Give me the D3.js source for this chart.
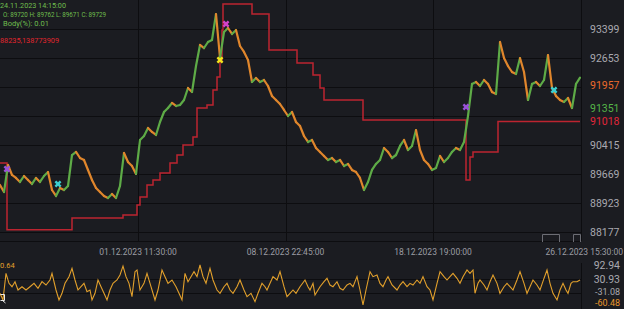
<!doctype html>
<html>
  <head>
    <meta charset="utf-8">
    <title>Price chart with trailing stop and oscillator</title>
    <script src="https://cdnjs.cloudflare.com/ajax/libs/d3/7.8.5/d3.min.js"></script>
    <style>
      html, body { margin: 0; padding: 0; background: #1b1c21; }
      svg { display: block; font-family: Roboto, "Noto Sans", sans-serif; }
    </style>
  </head>
  <body>
    <div id="chart"></div>
    <script>
    // ---- data ----
    // closes, one every 4 bars
    const priceStep = 4;
    const priceClose = [
      89387, 89207, 89901, 89644, 89567, 89464, 89618, 89515, 89413, 89567,
      89464, 89618, 89721, 89258, 89104, 89310, 89258, 89361, 90158, 90236,
      90081, 90030, 89773, 89515, 89310, 89207, 89104, 89052, 89155, 89052,
      89361, 90210, 89978, 89875, 89670, 90544, 90647, 90853, 90750, 90673,
      91007, 91264, 91367, 91496, 91419, 91444, 91573, 91882, 91779, 92447,
      92988, 92910, 93065, 93116, 93785, 92653, 93322, 93425, 93271, 93373,
      92962, 92808, 92602, 92036, 92139, 92036, 92087, 91933, 91676, 91573,
      91470, 91316, 91161, 91264, 91007, 90904, 90647, 90493, 90544, 90338,
      90236, 90133, 90030, 90081, 89978, 90030, 89875, 89927, 89773, 89721,
      89567, 89258, 89464, 89773, 89927, 90030, 90338, 90236, 90081, 90158,
      90390, 90544, 90287, 90390, 90801, 90287, 90030, 89927, 89773, 89824,
      90133, 89978, 90081, 90236, 90338, 90287, 90493, 91161, 91985, 92036,
      91933, 92087, 91985, 91779, 91727, 93065, 92653, 92447, 92293, 92242,
      92653, 92293, 91573, 91985, 92036, 91933, 92087, 92730, 91882, 91676,
      91573, 91522, 91624, 91367, 91985, 92150
    ];

    // trailing stop (red step line)
    const stopBar   = [0, 7, 72, 123, 137, 140, 147, 153, 160, 170, 177, 183, 193, 197, 207, 213, 217, 220, 222, 223, 252, 269, 297, 313, 320, 324, 363, 466, 470, 473, 498, 580];
    const stopValue = [89953, 88235, 88538, 88615, 88872, 89078, 89387, 89515, 89695, 89953, 90158, 90416, 90621, 91367, 91444, 91830, 92165, 92602, 93373, 94042, 93785, 92859, 92525, 92216, 91882, 91573, 91059, 89515, 90107, 90236, 91018, 91018];

    // signal markers
    const markBar   = [7, 58, 220, 226, 466, 554];
    const markValue = [89798, 89413, 92602, 93528, 91393, 91830];
    const markColor = ['#9a52d8', '#3cd0d2', '#f2e41c', '#d443c8', '#9a52d8', '#3cd0d2'];

    // oscillator (lower pane)
    const oscBar = [0, 3, 6, 9, 12, 15, 18, 22, 26, 30, 34, 38, 42, 46, 50, 52, 56, 59, 62, 65,
      69, 72, 75, 78, 81, 84, 87, 90, 92, 95, 98, 101, 104, 107, 110, 113, 117, 120, 123, 126,
      129, 132, 135, 137, 140, 144, 147, 151, 155, 158, 162, 165, 168, 172, 176, 179, 182, 185, 188, 191,
      194, 197, 200, 203, 206, 210, 213, 217, 220, 224, 227, 230, 233, 237, 240, 244, 247, 251, 255, 258,
      262, 265, 267, 270, 273, 277, 280, 284, 287, 290, 293, 296, 300, 305, 308, 310, 313, 315, 320, 324,
      327, 330, 333, 337, 340, 343, 347, 350, 353, 357, 360, 363, 366, 370, 373, 377, 380, 383, 386, 388,
      392, 397, 400, 403, 407, 410, 413, 417, 420, 423, 427, 430, 433, 437, 440, 444, 447, 450, 453, 457,
      460, 463, 467, 470, 473, 475, 478, 480, 484, 487, 490, 493, 497, 500, 504, 507, 510, 513, 517, 520,
      524, 527, 530, 533, 537, 540, 544, 547, 550, 553, 557, 560, 563, 566, 568, 571, 573, 577, 580];
    const oscValue = [-32.5, -62, 56, 11.7, -3.2, 19, -17.8, -3.2, -17.8, -3.2, 11.7, -10.4, 19, 4.3, 26.5, 56, -17.8, -62, -32.5, 11.7,
      41.3, 78.3, 26.5, -17.8, -3.2, 11.7, -25.2, -17.8, -62, -32.5, 26.5, -3.2, -32.5, -62, -17.8, 11.7, 26.5, 48.6, 88, 41.3,
      11.7, -47.4, 63.4, 70.8, -17.8, 11.7, 56, -3.2, -62, -17.8, 70.8, 41.3, 11.7, 26.5, -3.2, -32.5, -62, 56, 19, 41.3,
      63.4, 41.3, 93, 41.3, 11.7, 78.3, 26.5, -17.8, -32.5, -3.2, 11.7, -17.8, -32.5, -3.2, 26.5, -17.8, -47.4, -32.5, -69.5, -32.5,
      11.7, -3.2, -17.8, 11.7, 41.3, 26.5, 63.4, -3.2, -47.4, -32.5, -17.8, -32.5, -3.2, 26.5, -3.2, -17.8, 11.7, -40, -3.2, 19,
      33.9, 4.3, -3.2, 19, -10.4, -17.8, 4.3, 11.7, -3.2, 41.3, -17.8, -84, -17.8, 63.4, 41.3, 48.6, 11.7, -3.2, 26.5, 41.3,
      4.3, -17.8, 4.3, 19, -3.2, 11.7, 4.3, 26.5, 11.7, 41.3, -3.2, -17.8, -62, 11.7, 63.4, 41.3, 26.5, 41.3, 56, 33.9,
      11.7, 41.3, 70.8, 56, 70.8, -32.5, 11.7, 26.5, 4.3, -17.8, 19, 48.6, 11.7, -32.5, -3.2, 11.7, -3.2, -17.8, 26.5, 63.4,
      11.7, -32.5, -3.2, 26.5, 4.3, -17.8, 33.9, 70.8, 11.7, -32.5, -62, -17.8, 11.7, -17.8, -32.5, 11.7, 19, 19, 26.5];

    // axis ticks
    const priceTicks = [88177, 88923, 89669, 90415, 91161, 91907, 92653, 93399];
    const priceTickShown = [88177, 88923, 89669, 90415, 92653, 93399];
    const lastLabels = [
      { v: 91957, color: '#ec6a2c' },
      { v: 91351, color: '#55b548' },
      { v: 91018, color: '#e1263a' }
    ];
    const timeTickBar = [138, 285.5, 433, 580.5];
    const timeTickLabel = ['01.12.2023 11:30:00', '08.12.2023 22:45:00', '18.12.2023 19:00:00', '26.12.2023 15:30:00'];
    const oscTicks = [92.94, 30.93, -31.08];
    const oscGrid = [30.93, -31.08];
    const oscLast = -60.48;

    const headerLines = ['24.11.2023 14:15:00', 'O: 89720 H: 89762 L: 89671 C: 89729', 'Body(%): 0.01'];
    const stopText = '88235,138773909';
    const oscText = '0.64';

    // ---- layout ----
    const W = 624, H = 309;
    const plotR = 581;          // right edge of plot / left of price axis
    const mainTop = 0, mainBot = 241;
    const oscTop = 258, oscBot = 309;

    const svg = d3.select('#chart').append('svg')
      .attr('width', W).attr('height', H);

    svg.append('rect').attr('width', W).attr('height', H).attr('fill', '#1b1c21');

    const x = d3.scaleLinear().domain([0, 580]).range([0, 580]);
    const y = d3.scaleLinear().domain([87946, 94145]).range([mainBot, mainTop]);
    const yo = d3.scaleLinear().domain([-102, 124]).range([oscBot, oscTop]);

    const gridColor = '#0d0d10';

    // grid
    svg.append('g').selectAll('line').data(priceTicks).join('line')
      .attr('x1', 0).attr('x2', plotR)
      .attr('y1', d => Math.round(y(d)) + 0.5).attr('y2', d => Math.round(y(d)) + 0.5)
      .attr('stroke', gridColor);
    svg.append('g').selectAll('line').data(timeTickBar.slice(0, 3)).join('line')
      .attr('x1', d => Math.round(x(d)) + 0.5).attr('x2', d => Math.round(x(d)) + 0.5)
      .attr('y1', mainTop).attr('y2', mainBot)
      .attr('stroke', gridColor);
    svg.append('g').selectAll('line').data(oscGrid).join('line')
      .attr('x1', 0).attr('x2', plotR)
      .attr('y1', d => Math.round(yo(d)) + 0.5).attr('y2', d => Math.round(yo(d)) + 0.5)
      .attr('stroke', gridColor);

    // pane borders
    svg.append('line').attr('x1', 0).attr('x2', plotR).attr('y1', mainBot + 0.5).attr('y2', mainBot + 0.5).attr('stroke', gridColor);
    svg.append('line').attr('x1', plotR + 0.5).attr('x2', plotR + 0.5).attr('y1', 0).attr('y2', mainBot).attr('stroke', gridColor);
    svg.append('line').attr('x1', plotR + 0.5).attr('x2', plotR + 0.5).attr('y1', 263).attr('y2', H).attr('stroke', gridColor);

    // small scroll buttons near the bottom right
    svg.append('path')
      .attr('d', 'M542.5,242V234.5H559.5V242M573.5,242V234.5H580.5V242')
      .attr('fill', 'none').attr('stroke', '#6c6d74');

    // trailing stop
    const stopData = stopBar.map((b, i) => [b, stopValue[i]]);
    svg.append('path')
      .datum(stopData)
      .attr('d', d3.line().x(d => x(d[0])).y(d => y(d[1])).curve(d3.curveStepAfter))
      .attr('fill', 'none').attr('stroke', '#bd2430').attr('stroke-width', 1.5);

    // price, each step coloured by direction
    const segs = priceClose.slice(1).map((c, i) => ({ x0: i * priceStep, x1: (i + 1) * priceStep, o: priceClose[i], c: c }));
    svg.append('g').selectAll('line').data(segs).join('line')
      .attr('x1', d => x(d.x0)).attr('x2', d => x(d.x1))
      .attr('y1', d => y(d.o)).attr('y2', d => y(d.c))
      .attr('stroke', d => d.c >= d.o ? '#5eab47' : '#e0862c')
      .attr('stroke-width', 2.2)
      .attr('stroke-linecap', 'round');

    // markers
    svg.append('g').selectAll('path').data(markBar).join('path')
      .attr('transform', (d, i) => `translate(${x(d)},${y(markValue[i])}) rotate(45)`)
      .attr('d', d3.symbol(d3.symbolCross, 30))
      .attr('fill', (d, i) => markColor[i]);

    // oscillator
    svg.append('path')
      .datum(oscBar.map((b, i) => [b, oscValue[i]]))
      .attr('d', d3.line().x(d => x(d[0])).y(d => yo(d[1])))
      .attr('fill', 'none').attr('stroke', '#e2a02c').attr('stroke-width', 1.1);

    // price axis labels
    svg.append('g').selectAll('text').data(priceTickShown).join('text')
      .attr('x', 590).attr('y', d => y(d)).attr('dy', '0.35em')
      .attr('fill', '#a9a9b0').style('font-size', '10.5px')
      .text(d => d);
    svg.append('g').selectAll('text').data(lastLabels).join('text')
      .attr('x', 590).attr('y', d => y(d.v)).attr('dy', '0.35em')
      .attr('fill', d => d.color).style('font-size', '10.5px')
      .text(d => d.v);

    // time axis labels
    svg.append('g').selectAll('text').data(timeTickBar).join('text')
      .attr('x', (d, i) => i === 3 ? W - 1 : x(d))
      .attr('y', 252).attr('dy', '0.35em')
      .attr('text-anchor', (d, i) => i === 3 ? 'end' : 'middle')
      .attr('fill', '#9c9ca4').style('font-size', '8.5px')
      .text((d, i) => timeTickLabel[i]);

    // oscillator axis labels (bottom two squeezed so they do not collide)
    const oscLabelY = [yo(oscTicks[0]), yo(oscTicks[1]), 292];
    svg.append('g').selectAll('text').data(oscTicks).join('text')
      .attr('x', 620).attr('y', (d, i) => oscLabelY[i]).attr('dy', '0.35em')
      .attr('text-anchor', 'end')
      .attr('fill', '#a9a9b0').style('font-size', (d, i) => i === 2 ? '9px' : '10.5px')
      .text(d => d.toFixed(2));
    svg.append('text')
      .attr('x', 620).attr('y', 303).attr('dy', '0.35em')
      .attr('text-anchor', 'end')
      .attr('fill', '#e8962c').style('font-size', '9px')
      .text(oscLast.toFixed(2));

    // header (narrow font like the terminal's legend)
    const headerW = [66, 103, 46];
    svg.append('g').selectAll('text').data(headerLines).join('text')
      .attr('x', (d, i) => i === 0 ? 0 : 3)
      .attr('y', (d, i) => [8, 17, 26][i])
      .attr('fill', '#6fbe4e').style('font-size', '7.5px')
      .attr('textLength', (d, i) => headerW[i]).attr('lengthAdjust', 'spacingAndGlyphs')
      .text(d => d);
    svg.append('text').attr('x', 0).attr('y', 43)
      .attr('fill', '#e0262e').style('font-size', '8px')
      .attr('textLength', 59).attr('lengthAdjust', 'spacingAndGlyphs')
      .text(stopText);
    svg.append('text').attr('x', 0).attr('y', 268)
      .attr('fill', '#e2a02c').style('font-size', '7.5px')
      .text(oscText);

    // little cursor glyph at the bottom left
    svg.append('path')
      .attr('d', 'M0.5,294.5H4.5V300.5H0.5M2.5,300.5L5.5,303')
      .attr('fill', 'none').attr('stroke', '#e8e8e8').attr('stroke-width', 1);
    </script>
  </body>
</html>
